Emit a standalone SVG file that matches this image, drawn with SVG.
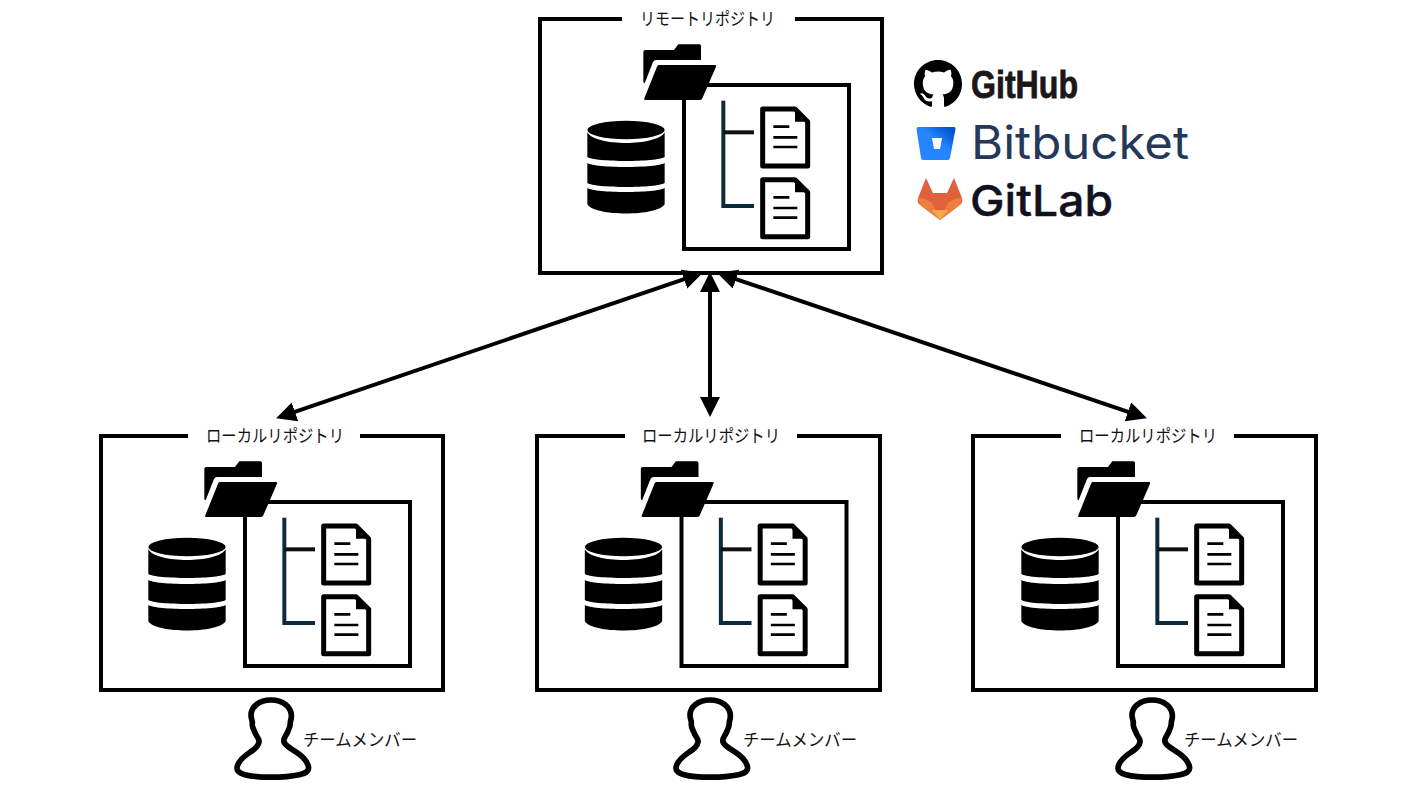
<svg xmlns="http://www.w3.org/2000/svg" width="1422" height="800" viewBox="0 0 1422 800">
<style>
.frame{fill:none;stroke:#000;stroke-width:4}
.lbl{font-family:"Noto Sans CJK JP","Liberation Sans",sans-serif;font-size:17.500px;fill:#111}
.conn{fill:none;stroke:#000;stroke-width:4}
</style>
<defs>
<marker id="ah" markerUnits="userSpaceOnUse" markerWidth="22" markerHeight="22" refX="15" refY="10" orient="auto-start-reverse"><path d="M0 0L20 10L0 20Z" fill="#000"/></marker>
<linearGradient id="bb" x1="1" y1="0.2" x2="0.3" y2="0.9"><stop offset="0" stop-color="#0052cc"/><stop offset="0.5" stop-color="#2684ff"/></linearGradient>
<g id="doc">
<path d="M698 327H795L833 365V498H698Z" fill="#fff" stroke="#000" stroke-width="15" stroke-linejoin="round"/>
<path d="M795 330L834 365H795Z" fill="#000"/>
<path d="M730 380H778M730 412H802M730 441H802" stroke="#000" stroke-width="8" fill="none"/>
</g>
<g id="repo" transform="translate(-10 -19) scale(.33333)">
<rect x="462" y="255" width="495" height="492" fill="none" stroke="#000" stroke-width="12"/>
<path d="M340 156Q340 150 346 150H432L445 133H508Q513 133 513 138V180H378Q372 180 369 186L344 250Q339 248 340 244Z" fill="#000"/>
<path d="M386 195H555Q560 195 558 200L517 295Q515 300 510 300H346Q341 300 343 295L381 200Q383 195 386 195Z" fill="#000"/>
<ellipse cx="288" cy="390" rx="116" ry="28" fill="#000"/>
<path d="M172 397C195 440 380 440 404 397V471C380 487 195 487 172 471Z" fill="#000"/>
<path d="M172 489C195 505 380 505 404 489V549C380 565 195 565 172 549Z" fill="#000"/>
<path d="M172 564C195 580 380 580 404 564V612C385 650 190 650 172 612Z" fill="#000"/>
<path d="M580 302V624" stroke="#0e2b3d" stroke-width="12" fill="none"/>
<path d="M580 397H672" stroke="#111" stroke-width="12" fill="none"/>
<path d="M580 618H672" stroke="#0a2a3f" stroke-width="12" fill="none"/>
<use href="#doc"/>
<use href="#doc" y="212"/>
</g>
<path id="person" transform="scale(.33333)" fill="#fff" stroke="#000" stroke-width="17" stroke-linejoin="round" d="M150 60C186 60 210 80 211 106C212 118 207 122 208 130C208 142 202 150 198 160C193 170 186 176 189 186C193 198 210 206 228 218C246 230 258 245 262 258C266 272 255 280 235 284C190 294 110 294 72 284C52 279 44 270 50 255C56 240 70 228 88 216C104 206 112 198 114 186C116 176 106 170 102 158C98 148 92 140 94 130C95 122 90 116 90 106C90 80 114 60 150 60Z"/>
</defs>

<g id="connectors">
<path class="conn" d="M710 277V412" marker-start="url(#ah)" marker-end="url(#ah)"/>
<path class="conn" d="M698.200 274.300L280.800 416.700" marker-start="url(#ah)" marker-end="url(#ah)"/>
<path class="conn" d="M721.800 274.300L1142.200 416.700" marker-start="url(#ah)" marker-end="url(#ah)"/>
</g>

<g id="remote">
<path class="frame" d="M622 19H540V273H882V19H795"/>
<use href="#repo" transform="translate(540 19)"/>
<text class="lbl" x="640" y="25" textLength="135" lengthAdjust="spacingAndGlyphs">リモートリポジトリ</text>
</g>
<g id="local-1">
<path class="frame" d="M188 436H101V690H443V436H360"/>
<use href="#repo" transform="translate(101 436)"/>
<text class="lbl" x="206" y="442" textLength="138" lengthAdjust="spacingAndGlyphs">ローカルリポジトリ</text>
</g>
<g id="local-2">
<path class="frame" d="M625 436H537V690H880V436H797"/>
<use href="#repo" transform="translate(537.500 436)"/>
<text class="lbl" x="642" y="442" textLength="138" lengthAdjust="spacingAndGlyphs">ローカルリポジトリ</text>
</g>
<g id="local-3">
<path class="frame" d="M1061 436H973V690H1316V436H1234"/>
<use href="#repo" transform="translate(974 436)"/>
<text class="lbl" x="1079" y="442" textLength="138" lengthAdjust="spacingAndGlyphs">ローカルリポジトリ</text>
</g>

<g id="member-1">
<use href="#person" transform="translate(221 680)"/>
<text class="lbl" x="303" y="746" textLength="114" lengthAdjust="spacingAndGlyphs">チームメンバー</text>
</g>
<g id="member-2">
<use href="#person" transform="translate(660 680)"/>
<text class="lbl" x="743" y="746" textLength="114" lengthAdjust="spacingAndGlyphs">チームメンバー</text>
</g>
<g id="member-3">
<use href="#person" transform="translate(1102 680)"/>
<text class="lbl" x="1184" y="746" textLength="114" lengthAdjust="spacingAndGlyphs">チームメンバー</text>
</g>

<g id="logo-github">
<path transform="translate(914 60) scale(3)" fill="#000" fill-rule="evenodd" d="M8 0C3.58 0 0 3.58 0 8c0 3.54 2.29 6.53 5.47 7.59.4.07.55-.17.55-.38 0-.19-.01-.82-.01-1.49-2.01.37-2.53-.49-2.69-.94-.09-.23-.48-.94-.82-1.13-.28-.15-.68-.52-.01-.53.63-.01 1.08.58 1.23.82.72 1.21 1.87.87 2.33.66.07-.52.28-.87.51-1.07-1.78-.2-3.64-.89-3.64-3.95 0-.87.31-1.59.82-2.15-.08-.2-.36-1.02.08-2.12 0 0 .67-.21 2.2.82.64-.18 1.32-.27 2-.27.68 0 1.36.09 2 .27 1.53-1.04 2.2-.82 2.2-.82.44 1.1.16 1.92.08 2.12.51.56.82 1.27.82 2.15 0 3.07-1.87 3.75-3.65 3.95.29.25.54.73.54 1.48 0 1.07-.01 1.93-.01 2.2 0 .21.15.46.55.38A8.013 8.013 0 0016 8c0-4.42-3.58-8-8-8z"/>
<text x="971" y="98" font-family="'Liberation Sans',sans-serif" font-weight="700" font-size="38" fill="#1b1718" stroke="#1b1718" stroke-width=".8" textLength="107" lengthAdjust="spacingAndGlyphs">GitHub</text>
</g>
<g id="logo-bitbucket">
<path d="M918 127H954Q956 127 955.500 129L950 158Q949.500 160 948 160H923Q921.500 160 921 158L916.500 129Q916.500 127 918 127Z" fill="url(#bb)"/>
<path d="M932 138H942L940 149H934Z" fill="#fff"/>
<text x="971" y="159" font-family="Inter,'Liberation Sans',sans-serif" font-size="46" fill="#253858" textLength="218" lengthAdjust="spacingAndGlyphs">Bitbucket</text>
</g>
<g id="logo-gitlab">
<path d="M940 220L919 204Q917 202 918 198L926 178L933 193H947L954 178L962 198Q963 202 961 204Z" fill="#e0613c"/>
<path d="M918 198Q925 198 932 203L940 220L920 205Z" fill="#ee7f3f"/>
<path d="M962 198Q955 198 948 203L940 220L960 205Z" fill="#ee7f3f"/>
<path d="M932 210H948L940 220Z" fill="#f2a94b"/>
<text x="970" y="216" font-family="Inter,'Liberation Sans',sans-serif" font-weight="500" font-size="43" fill="#11111f" stroke="#11111f" stroke-width=".4" textLength="143" lengthAdjust="spacingAndGlyphs">GitLab</text>
</g>
</svg>
